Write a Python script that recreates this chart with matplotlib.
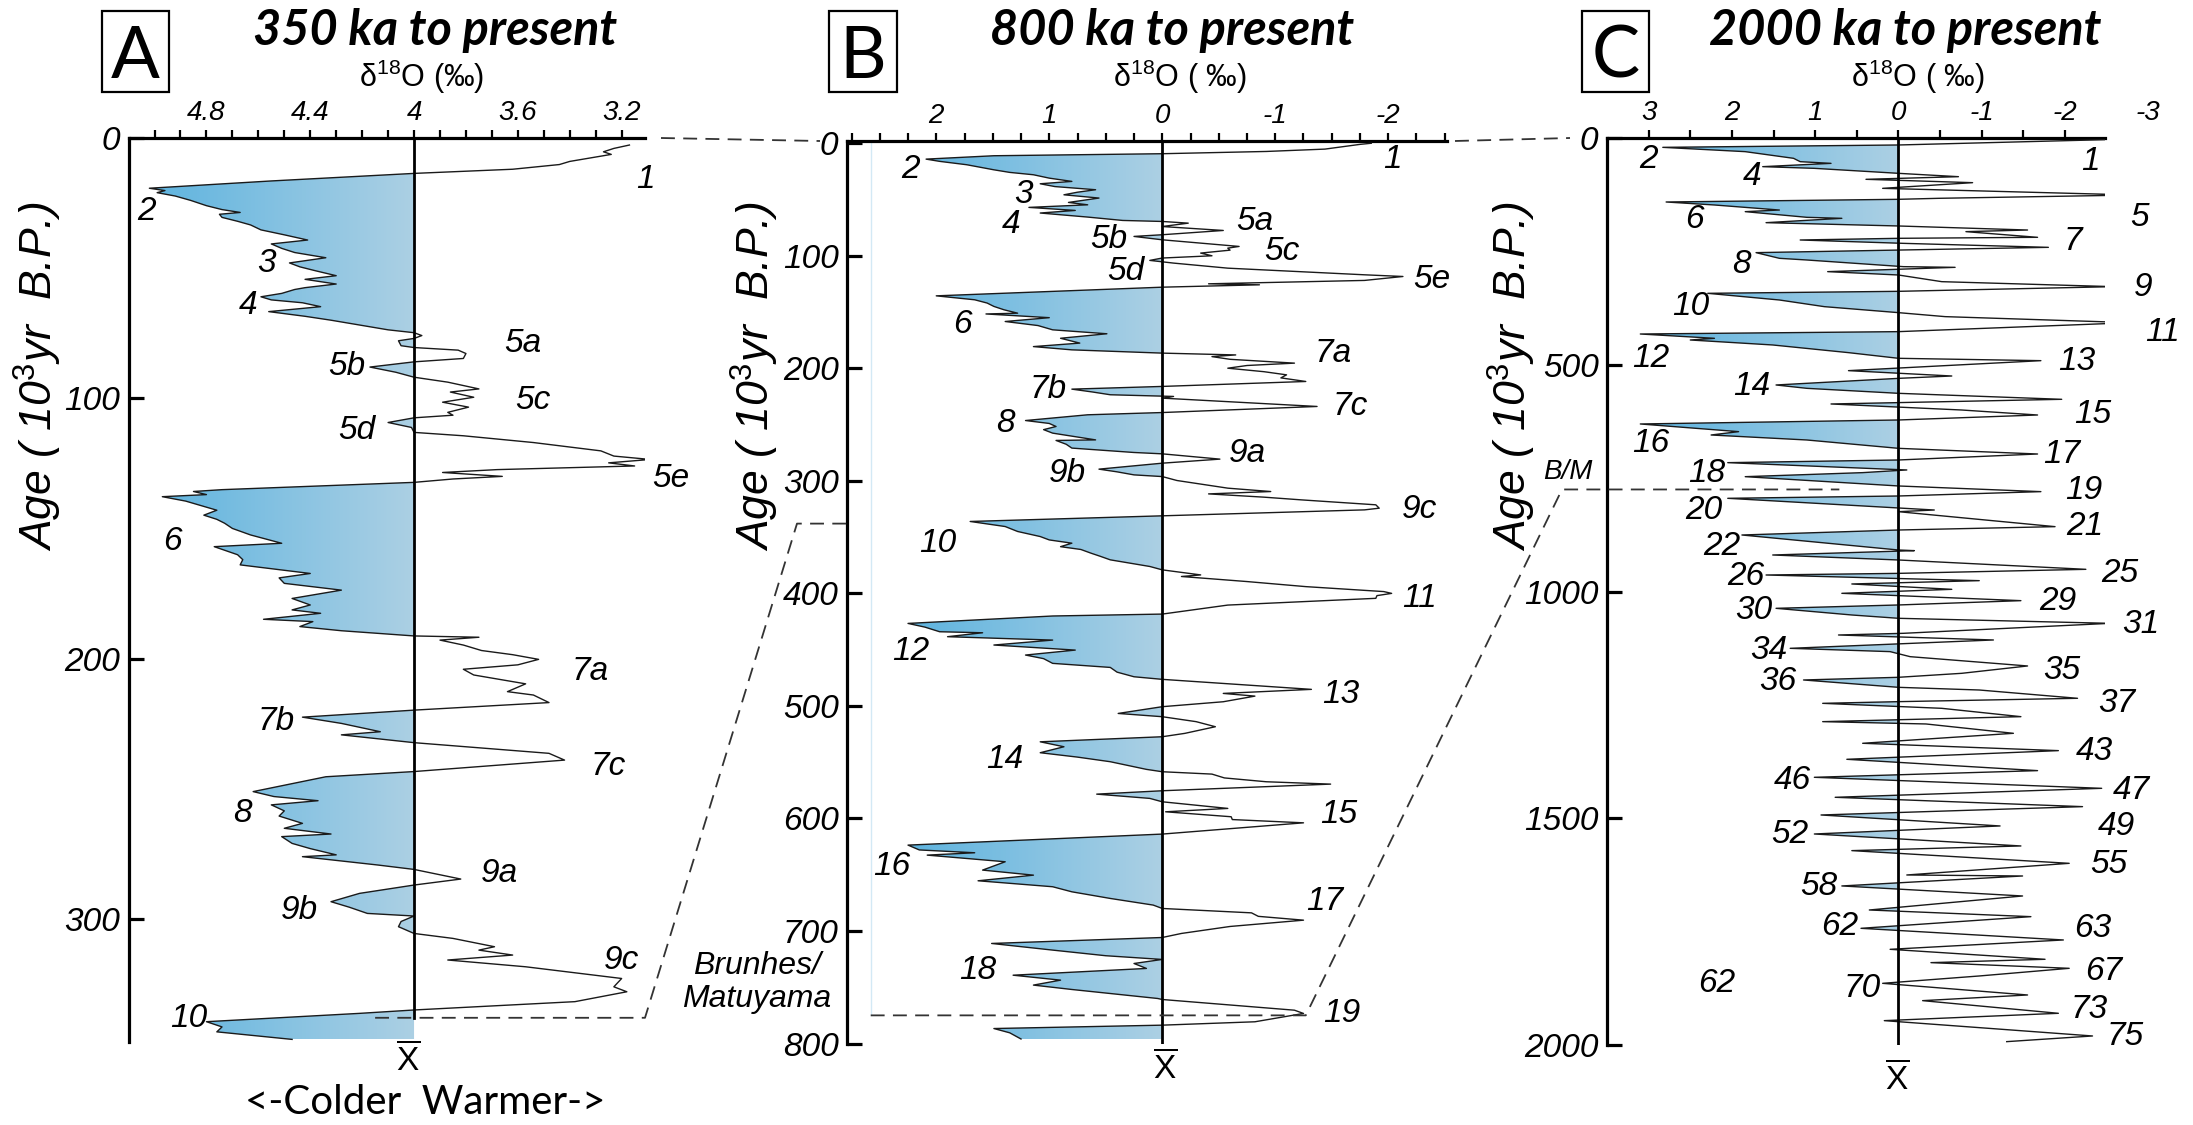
import numpy as np
import matplotlib
matplotlib.use('Agg')
import matplotlib.pyplot as plt
from matplotlib.colors import LinearSegmentedColormap
from matplotlib.lines import Line2D
from matplotlib.patches import Rectangle
from matplotlib.path import Path

plt.rcParams['font.family'] = ['Liberation Sans', 'DejaVu Sans']
plt.rcParams['axes.unicode_minus'] = False
plt.rcParams['mathtext.fontset'] = 'custom'
plt.rcParams['mathtext.rm'] = 'Liberation Sans'
plt.rcParams['mathtext.it'] = 'Liberation Sans:italic'
plt.rcParams['lines.scale_dashes'] = False

# ---- panel A: 350 ka to present (d18O, permil) ----
a_age = [2.7, 4.0, 5.3, 6.3, 7.5, 9.0, 10.2, 12.0, 13.6, 16.5, 19.3, 20.2, 21.0, 22.3, 24.0,
         26.0, 27.5, 28.6, 29.3, 30.5, 32.0, 33.4, 35.3, 37.2, 39.2, 40.7, 42.4, 44.0, 46.0,
         48.0, 49.5, 51.0, 52.9, 54.3, 56.1, 57.5, 58.2, 59.7, 61.0, 62.2, 63.3, 64.8, 66.7,
         68.5, 70.0, 72.0, 73.7, 74.8, 75.9, 77.0, 77.9, 79.8, 80.5, 81.5, 82.8, 84.7, 86.0,
         88.0, 90.0, 91.9, 93.8, 96.4, 97.6, 99.6, 101.5, 103.4, 105.4, 106.5, 107.5, 109.3,
         111.2, 113.1, 114.4, 117.0, 120.2, 122.2, 123.5, 124.8, 126.0, 127.4, 128.5, 130.0,
         131.0, 132.3, 135.1, 135.8, 137.0, 137.8, 139.5, 143.0, 144.9, 146.5, 148.0, 150.0,
         152.5, 155.7, 157.0, 160.1, 162.0, 164.0, 167.3, 169.0, 171.1, 173.7, 176.9, 179.4,
         181.3, 182.6, 184.9, 185.8, 187.7, 189.3, 191.3, 191.8, 192.9, 194.8, 196.9, 198.5,
         200.3, 202.4, 204.1, 206.3, 209.7, 212.7, 214.0, 216.9, 219.8, 222.5, 224.9, 228.1,
         229.3, 232.3, 236.4, 239.0, 243.4, 245.4, 251.1, 253.0, 254.6, 256.2, 258.5, 260.5,
         263.3, 265.2, 267.4, 268.4, 271.0, 273.0, 275.4, 276.1, 279.3, 281.0, 284.7, 287.0,
         290.2, 293.4, 295.5, 297.9, 298.9, 301.0, 303.0, 305.6, 307.5, 310.7, 312.0, 313.9,
         315.8, 318.4, 322.9, 326.1, 328.0, 331.8, 335.0, 336.3, 339.5, 341.5, 343.4, 346.3]
a_d18o = [3.17, 3.23, 3.27, 3.24, 3.31, 3.40, 3.44, 3.62, 4.00, 4.55, 5.02, 4.96, 4.99, 4.92, 4.86,
          4.80, 4.74, 4.67, 4.75, 4.74, 4.68, 4.63, 4.59, 4.50, 4.41, 4.55, 4.51, 4.46, 4.34,
          4.48, 4.44, 4.38, 4.30, 4.42, 4.30, 4.42, 4.46, 4.51, 4.59, 4.55, 4.43, 4.36, 4.56,
          4.42, 4.32, 4.20, 4.10, 4.00, 3.97, 4.00, 4.06, 4.05, 4.00, 3.83, 3.80, 3.81, 4.00,
          4.17, 4.07, 4.00, 3.87, 3.75, 3.86, 3.77, 3.89, 3.79, 3.87, 3.85, 4.00, 4.10,
          4.01, 4.00, 3.81, 3.54, 3.28, 3.23, 3.09, 3.25, 3.15, 3.68, 3.89, 3.66,
          3.85, 4.00, 4.74, 4.85, 4.80, 4.97, 4.88, 4.76, 4.81, 4.76, 4.73, 4.70,
          4.63, 4.51, 4.77, 4.68, 4.66, 4.67, 4.40, 4.52, 4.50, 4.28, 4.47, 4.40,
          4.47, 4.36, 4.58, 4.39, 4.44, 4.28, 4.00, 3.75, 3.90, 3.81, 3.74, 3.62,
          3.52, 3.60, 3.81, 3.77, 3.57, 3.64, 3.54, 3.48, 4.00, 4.43, 4.28, 4.13,
          4.28, 4.00, 3.48, 3.42, 4.00, 4.34, 4.62, 4.54, 4.37, 4.55, 4.50, 4.52,
          4.43, 4.50, 4.32, 4.51, 4.47, 4.40, 4.30, 4.43, 4.14, 4.00, 3.82, 4.00,
          4.21, 4.32, 4.25, 4.18, 4.00, 4.05, 4.06, 4.00, 3.85, 3.69, 3.75, 3.62,
          3.87, 3.57, 3.20, 3.23, 3.18, 3.38, 4.00, 4.21, 4.80, 4.74, 4.76, 4.47]
a_mean = 4.0
a_xticks = [4.8, 4.4, 4.0, 3.6, 3.2]
a_xticklabels = ['4.8', '4.4', '4', '3.6', '3.2']
a_yticks = [0, 100, 200, 300]
a_labels = ['1', '2', '3', '4', '5a', '5b', '5c', '5d', '5e', '6', '7a', '7b', '7c', '8',
            '9a', '9b', '9c', '10']
a_lab_x = [3.11, 5.03, 4.57, 4.64, 3.58, 4.26, 3.54, 4.22, 3.01, 4.93, 3.32, 4.53, 3.25, 4.66,
           3.67, 4.44, 3.20, 4.87]
a_lab_age = [16.1, 28.3, 48.1, 64.2, 78.9, 87.8, 100.7, 112.2, 130.8, 155.1, 205, 224.2, 241.5,
             259.4, 282.5, 296.6, 315.8, 338.2]

# ---- panel B: 800 ka to present ----
b_age = [0.0, 1.0, 3.0, 5.2, 7.3, 9.3, 11.1, 14.1, 16.1, 19.1, 23.6, 25.9, 28.0, 31.0, 33.9, 36.0,
         38.5, 41.3, 43.5, 45.8, 48.7, 52.6, 54.7, 57.0, 59.7, 62.0, 65.6, 68.6, 69.5, 71.0, 74.0,
         77.5, 81.3, 82.8, 85.8, 91.7, 93.2, 95.0, 97.6, 100.0, 102.0, 104.1, 106.5, 111.0, 116.9,
         118.4, 121.9, 124.9, 125.8, 127.9, 135.6, 139.1, 142.0, 145.0, 148.0, 151.0, 151.7,
         155.0, 158.4, 162.0, 165.8, 169.3, 173.3, 177.6, 180.7, 183.6, 186.5, 188.1, 189.6,
         192.0, 195.4, 197.5, 199.9, 203.0, 205.8, 208.5, 211.7, 216.1, 218.5, 221.0, 223.5,
         225.0, 226.5, 233.9, 239.3, 241.3, 246.4, 249.0, 251.7, 254.5, 257.6, 263.6, 264.1,
         267.5, 270.9, 274.8, 276.0, 280.7, 284.3, 289.6, 292.0, 294.7, 296.2, 299.7, 303.0,
         306.5, 309.5, 311.6, 314.5, 316.9, 321.3, 324.3, 325.8, 331.1, 336.1, 340.6, 345.0,
         349.5, 352.5, 355.4, 358.5, 361.0, 364.3, 367.0, 370.2, 376.1, 379.1, 383.6, 385.0,
         389.5, 394.0, 398.4, 400.0, 402.0, 404.4, 410.4, 418.4, 420.1, 426.7, 430.0, 434.1,
         435.0, 438.5, 441.5, 445.9, 450.4, 454.8, 458.0, 462.2, 465.8, 470.0, 474.1, 476.4,
         485.3, 488.9, 491.3, 496.3, 500.7, 506.7, 509.6, 514.0, 518.5, 524.4, 527.4, 531.9,
         536.3, 541.6, 545.5, 549.6, 556.4, 558.5, 560.6, 564.0, 567.4, 569.5, 575.4, 578.4,
         582.2, 585.2, 591.1, 594.1, 598.5, 601.0, 603.9, 613.9, 623.7, 628.0, 630.5, 632.6,
         638.5, 645.9, 650.4, 655.4, 660.7, 665.2, 671.1, 677.0, 680.0, 683.9, 687.0, 690.4,
         696.0, 702.2, 705.8, 711.1, 717.0, 722.0, 725.3, 728.9, 733.3, 739.3, 743.7, 748.1,
         752.0, 755.6, 760.0, 760.9, 770.4, 773.3, 780.7, 783.7, 786.7, 790.5, 796.0]
b_d18o = [-1.85, -1.75, -1.60, -1.44, -0.92, 0.00, 1.49, 2.09, 1.97, 1.73, 1.49, 1.35, 1.14, 1.00,
          0.80, 1.08, 0.95, 0.59, 0.75, 0.87, 0.56, 0.83, 0.66, 1.18, 0.77, 1.08, 0.66, 0.35, 0.00,
          -0.23, 0.00, -0.54, 0.00, 0.25, 0.00, -0.68, -0.58, -0.60, -0.34, -0.44, 0.00, 0.11,
          -0.10, -0.58, -1.79, -2.13, -1.79, -0.41, -0.86, 0.00, 2.00, 1.66, 1.55, 1.49, 1.40,
          1.28, 1.56, 1.00, 1.39, 1.10, 0.97, 0.49, 0.90, 0.73, 1.14, 0.80, 0.00, -0.65, -0.44,
          -0.60, -1.17, -0.75, -0.58, -0.90, -1.10, -1.05, -1.27, 0.00, 0.80, 0.62, 0.46,
          -0.10, 0.00, -1.37, 0.00, 0.66, 1.21, 1.00, 0.94, 1.05, 0.97, 0.59, 0.94,
          0.85, 0.80, 0.25, 0.00, -0.51, 0.00, 0.56, 0.40, 0.25, 0.00, -0.13, -0.35,
          -0.58, -0.96, -0.41, -0.90, -1.23, -1.89, -1.92, -1.79, 0.00, 1.70, 1.39, 1.28,
          1.08, 1.00, 0.80, 0.90, 0.72, 0.63, 0.55, 0.46, 0.11, 0.00, -0.34, -0.17,
          -0.75, -1.27, -1.96, -2.03, -1.90, -1.89, -0.58, 0.00, 0.97, 2.25, 2.10, 1.97,
          1.59, 1.90, 0.97, 1.49, 0.77, 1.21, 1.05, 0.97, 0.46, 0.40, 0.25, 0.00,
          -1.32, -0.54, -0.82, -0.54, 0.00, 0.39, 0.00, -0.30, -0.47, -0.20, 0.00, 1.08,
          0.87, 1.08, 0.75, 0.46, 0.14, 0.00, -0.44, -0.55, -0.92, -1.49, 0.00, 0.58,
          0.11, 0.00, -0.58, -0.03, -0.61, -0.62, -1.25, 0.00, 2.25, 2.15, 1.66, 2.08,
          1.39, 1.59, 1.14, 1.63, 0.97, 0.80, 0.46, 0.08, 0.00, -0.79, -0.85, -1.25,
          -0.60, -0.17, 0.00, 1.51, 0.97, 0.50, 0.00, 0.25, 0.14, 1.32, 0.90, 1.14,
          0.80, 0.46, 0.04, 0.00, -1.17, -1.25, -0.82, 0.00, 1.49, 1.35, 1.25]
b_mean = 0.0
b_xticks = [2, 1, 0, -1, -2]
b_xticklabels = ['2', '1', '0', '-1', '-2']
b_yticks = [0, 100, 200, 300, 400, 500, 600, 700, 800]
b_labels = ['1', '2', '3', '4', '5a', '5b', '5c', '5d', '5e', '6', '7a', '7b', '7c', '8', '9a',
            '9b', '9c', '10', '11', '12', '13', '14', '15', '16', '17', '18', '19']
b_lab_x = [-2.04, 2.23, 1.23, 1.34, -0.82, 0.47, -1.06, 0.32, -2.39, 1.77, -1.51, 1.01, -1.66,
           1.39, -0.75, 0.84, -2.28, 1.99, -2.28, 2.23, -1.58, 1.39, -1.56, 2.39, -1.44, 1.63, -1.59]
b_lab_age = [14.7, 22.9, 45.8, 72.4, 69.5, 85.8, 96.2, 114, 121.3, 161.3, 186.5, 219.1, 234,
             248.7, 275.4, 293.2, 325.8, 355.4, 404.3, 451.7, 490.2, 548, 596.9, 642.8, 674,
             734.7, 773.2]

# ---- panel C: 2000 ka to present ----
c_age = [3.0, 15.4, 20.6, 30.1, 44.8, 52.2, 55.9, 63.2, 66.9, 77.9, 85.3, 91.1, 98.5, 111.0,
         125.7, 133.0, 135.2, 141.1, 147.7, 158.8, 162.4, 174.9, 177.1, 186.7, 194.0, 202.9,
         206.5, 219.0, 221.2, 224.9, 232.3, 241.1, 247.0, 252.8, 265.3, 269.0, 283.7, 285.2,
         294.7, 302.1, 316.8, 327.8, 338.1, 342.5, 357.2, 371.9, 385.1, 393.9, 407.2, 427.0,
         432.2, 441.7, 445.4, 456.4, 473.3, 485.8, 491.0, 500.5, 513.0, 524.8, 530.0, 544.6,
         552.0, 563.0, 576.2, 586.5, 599.8, 610.8, 621.8, 630.6, 647.5, 654.9, 665.9, 684.3,
         696.8, 710.0, 715.9, 732.0, 737.9, 746.8, 767.3, 779.8, 789.4, 794.5, 820.3, 824.0,
         857.0, 864.4, 875.4, 890.1, 908.5, 909.9, 919.5, 930.5, 951.1, 960.0, 963.6, 976.1,
         983.4, 995.2, 1004.0, 1020.2, 1029.7, 1037.1, 1051.8, 1059.1, 1070.2, 1092.2, 1095.9,
         1106.9, 1125.3, 1132.6, 1143.7, 1164.2, 1180.4, 1189.2, 1195.1, 1211.3, 1217.2,
         1235.5, 1242.9, 1246.6, 1257.6, 1276.0, 1287.0, 1292.1, 1312.7, 1334.7, 1350.9,
         1370.0, 1395.0, 1409.7, 1434.0, 1453.8, 1474.4, 1492.8, 1517.0, 1534.7, 1561.1,
         1571.4, 1599.4, 1625.1, 1627.3, 1649.3, 1671.4, 1702.3, 1717.0, 1742.7, 1768.4,
         1789.0, 1811.0, 1818.4, 1830.9, 1847.8, 1864.0, 1889.7, 1902.2, 1930.1, 1946.3,
         1980.1, 1992.6]
c_d18o = [-2.62, 0.00, 2.83, 1.84, 1.26, 1.18, 0.81, 1.63, 1.01, 0.00, -0.72, 0.39, -0.89, 0.19,
          -2.83, -0.48, 0.00, 2.79, 2.21, 1.43, 1.84, 1.10, 0.68, 1.59, 0.00, -1.55,
          -0.81, -1.67, 0.00, 1.18, -0.06, -1.80, 0.00, 1.71, 1.43, 1.10, -0.06, -0.68,
          0.85, 0.00, -0.52, -2.58, 0.00, 2.29, 1.43, 0.89, 0.00, -0.56, -2.79, 0.00,
          3.10, 2.21, 2.50, 1.51, 0.60, 0.00, -1.71, -0.72, 0.60, -0.64, 0.00, 1.47,
          1.10, 0.00, -1.96, 0.81, -0.76, -1.67, 0.00, 3.10, 1.92, 2.25, 1.10, 0.00,
          -1.67, 0.00, 2.05, -0.10, 0.43, 1.84, 0.00, -1.71, 0.00, 2.05, -0.43, 0.00,
          -1.88, 0.00, 1.88, 1.05, 0.00, -0.19, 1.51, 0.00, -2.25, 0.00, 1.59, -0.97,
          0.56, -0.64, 0.68, -1.47, 0.00, 1.47, 0.56, 0.00, -2.54, -0.06, 0.72,
          -1.14, 1.30, 0.10, -0.14, -1.55, -0.76, 0.00, 1.14, 0.00, -0.97,
          -2.15, 0.00, 0.91, -0.52, -1.47, 0.91, -0.33, -1.38, 0.43, -1.92,
          0.62, -1.67, 1.01, -2.44, 0.76, -2.21, 0.93, -1.22, 1.01, -1.47,
          0.56, -2.05, -0.10, -1.49, 0.68, -1.49, 0.35, -1.59, 0.45, -1.98,
          0.10, -1.76, -0.39, -2.05, -0.97, 0.19, -1.55, -0.29, -1.92, 0.17,
          -2.33, -1.30]
c_mean = 0.0
c_xticks = [3, 2, 1, 0, -1, -2]
c_xticklabels = ['3', '2', '1', '0', '-1', '-2']
c_yticks = [0, 500, 1000, 1500, 2000]
c_labels = ['1', '2', '4', '5', '6', '7', '8', '9', '10', '11', '12', '13', '14', '15', '16',
            '17', '18', '19', '20', '21', '22', '25', '26', '29', '30', '31', '34', '35', '36',
            '37', '43', '46', '47', '49', '52', '55', '58', '62', '63', '62', '67', '70', '73', '75']
c_lab_x = [-2.31, 3.0, 1.76, -2.89, 2.45, -2.10, 1.89, -2.94, 2.49, -3.17, 2.98, -2.14, 1.76,
           -2.33, 2.98, -1.96, 2.30, -2.22, 2.34, -2.24, 2.12, -2.66, 1.83, -1.91, 1.74, -2.91,
           1.56, -1.96, 1.45, -2.62, -2.35, 1.27, -2.80, -2.62, 1.31, -2.53, 0.96, 0.71, -2.33,
           2.18, -2.47, 0.44, -2.29, -2.72]
c_lab_age = [52.2, 48.5, 85.3, 176, 180.8, 228.6, 280, 329.7, 372, 428, 485.8, 493.2, 548.3,
             610.8, 673.3, 699, 739.4, 776.2, 820.3, 857.1, 901.2, 959.9, 967.3, 1022.4, 1040.8,
             1071.7, 1129, 1173.1, 1198.9, 1246.6, 1353.3, 1415.7, 1439.3, 1518.5, 1536.9, 1603,
             1650.9, 1739.1, 1742.7, 1864, 1838.3, 1875, 1922.8, 1981.7]

cut_age = 338      # age where panel A zoom ends inside panel B
bm_age = 775       # Brunhes/Matuyama boundary

W, H = 2193, 1125
fig = plt.figure(figsize=(W / 100, H / 100), dpi=100)


def px_axes(x0, y0, x1, y1):
    return fig.add_axes([x0 / W, 1 - y1 / H, (x1 - x0) / W, (y1 - y0) / H])


def ftext(xp, yp, s, **kw):
    return fig.text(xp / W, 1 - yp / H, s, **kw)


cold = LinearSegmentedColormap.from_list('cold', ['#5cb3df', '#acd0e4'])


def draw_panel(ax, age, d18o, mean, xlim, ylim, grad_left, mean_end,
               xticks, xticklabels, xminor, yticks):
    age = np.asarray(age)
    d18o = np.asarray(d18o)
    poly = ax.fill_betweenx(age, d18o, mean, where=d18o >= mean, interpolate=True,
                            facecolor='none', edgecolor='none')
    clip = Path.make_compound_path(*poly.get_paths())
    im = ax.imshow(np.linspace(0, 1, 256)[None, :], cmap=cold, aspect='auto',
                   extent=(grad_left, mean, age.max(), age.min()), zorder=1)
    im.set_clip_path(clip, transform=ax.transData)
    ax.plot(d18o, age, color='#1a1a1a', lw=1.0, zorder=3)
    ax.plot([mean, mean], [ylim[1], mean_end], color='k', lw=2.0, zorder=4)

    for s in ('right', 'bottom'):
        ax.spines[s].set_visible(False)
    for s in ('top', 'left'):
        ax.spines[s].set_linewidth(2.3)
    ax.xaxis.tick_top()
    ax.set_xticks(xticks)
    ax.set_xticklabels(xticklabels, fontstyle='italic', fontsize=20)
    ax.set_xticks(xminor, minor=True)
    ax.tick_params(axis='x', which='both', direction='out', length=6, width=1.6, pad=3)
    ax.set_yticks(yticks)
    ax.set_yticklabels([str(t) for t in yticks], fontstyle='italic', fontsize=24)
    ax.tick_params(axis='y', direction='in', length=11, width=2.3, pad=6)
    ax.patch.set_visible(False)
    ax.set_xlim(*xlim)
    ax.set_ylim(*ylim)


def stage_labels(ax, labels, xs, ages):
    for s, x, a in zip(labels, xs, ages):
        ax.text(x, a, s, ha='center', va='center', fontsize=24, fontstyle='italic',
                clip_on=False, zorder=5)


a_xlim, a_ylim = (5.10, 3.11), (347.3, 0)
b_xlim, b_ylim = (2.79, -2.52), (800, -2)
c_xlim, c_ylim = (3.50, -2.48), (2000, 0)

axA = px_axes(128.6, 138, 645, 1042)
axB = px_axes(847, 141, 1447, 1043.5)
axC = px_axes(1607, 138, 2105, 1045)

draw_panel(axA, a_age, a_d18o, a_mean, a_xlim, a_ylim, 5.05, cut_age,
           a_xticks, a_xticklabels, np.round(np.arange(3.1, 5.01, 0.1), 2), a_yticks)
draw_panel(axB, b_age, b_d18o, b_mean, b_xlim, b_ylim, 2.3, 800,
           b_xticks, b_xticklabels, np.arange(-2.5, 2.76, 0.25), b_yticks)
draw_panel(axC, c_age, c_d18o, c_mean, c_xlim, c_ylim, 3.1, 2000,
           c_xticks, c_xticklabels, np.arange(-2.5, 3.01, 0.5), c_yticks)

stage_labels(axA, a_labels, a_lab_x, a_lab_age)
stage_labels(axB, b_labels, b_lab_x, b_lab_age)
stage_labels(axC, c_labels, c_lab_x, c_lab_age)

# faint guide line in panel B
axB.plot([2.58, 2.58], [-2, bm_age], color='#d3e9f5', lw=1.0, zorder=0)

# -3 label beyond the end of the C axis
axC.annotate('-3', xy=(-3, 1), xycoords=('data', 'axes fraction'), xytext=(0, 9),
             textcoords='offset points', ha='center', va='bottom', fontsize=20,
             fontstyle='italic', annotation_clip=False)

axB.text(3.59, 746, 'Brunhes/\nMatuyama', ha='center', va='center', fontsize=23,
         fontstyle='italic', linespacing=1.15, clip_on=False)
axC.text(3.97, 736, 'B/M', ha='center', va='center', fontsize=20, fontstyle='italic',
         clip_on=False)

# dashed connectors between panels
inv = fig.transFigure.inverted()


def fpt(ax, x, y, dx=0.0, coords='data'):
    tr = ax.transData if coords == 'data' else ax.transAxes
    d = tr.transform((x, y)) + np.array([dx, 0.0])
    return inv.transform(d)


dash = dict(color='#333333', lw=1.3, linestyle=(0, (10, 6)), transform=fig.transFigure)
segs = [
    [fpt(axA, 1, 1, 16, 'axes'), fpt(axB, 0, 1, -27, 'axes')],
    [fpt(axB, 1, 1, 8, 'axes'), fpt(axC, 0, 1, -37, 'axes')],
    [fpt(axA, 4.15, cut_age), fpt(axA, a_xlim[1], cut_age),
     fpt(axB, b_xlim[0], cut_age, -50), fpt(axB, b_xlim[0], cut_age)],
    [fpt(axB, 2.58, bm_age), fpt(axB, -1.27, bm_age),
     fpt(axC, c_xlim[0], bm_age, -45), fpt(axC, 0.71, bm_age)],
]
for seg in segs:
    seg = np.array(seg)
    fig.add_artist(Line2D(seg[:, 0], seg[:, 1], **dash))

# panel letters, titles and axis labels
for (x0, x1), letter in zip([(102, 169), (829, 897), (1582, 1649)], ['A', 'B', 'C']):
    fig.add_artist(Rectangle((x0 / W, 1 - 92 / H), (x1 - x0) / W, 81 / H, fill=False,
                             lw=1.6, edgecolor='k', transform=fig.transFigure))
    ftext((x0 + x1) / 2, 78, letter, ha='center', va='baseline', fontsize=52,
          family=['Lato', 'DejaVu Sans'])

for xc, title in zip([435, 1172, 1905],
                     ['350 ka to present', '800 ka to present', '2000 ka to present']):
    ftext(xc, 45, title, ha='center', va='baseline', fontsize=35, fontweight='bold',
          fontstyle='italic', family=['Lato', 'DejaVu Sans'])

for xc, lab in zip([422, 1180, 1918],
                   ['δ$^{18}$O (‰)', 'δ$^{18}$O ( ‰)', 'δ$^{18}$O ( ‰)']):
    ftext(xc, 87, lab, ha='center', va='baseline', fontsize=22)

for xc in [38, 755, 1512]:
    ftext(xc, 376, 'Age ( 10$^3$yr  B.P.)', rotation=90, ha='center', va='center',
          fontsize=32, fontstyle='italic')

for xc, yc in [(408, 1060), (1165, 1068), (1897, 1079)]:
    ftext(xc, yc, r'$\overline{\mathrm{X}}$', ha='center', va='center', fontsize=24)

ftext(425, 1102, '<-Colder  Warmer->', ha='center', va='center', fontsize=29,
      family=['Lato', 'DejaVu Sans'])

fig.savefig('out.png', dpi=100, facecolor='white')
